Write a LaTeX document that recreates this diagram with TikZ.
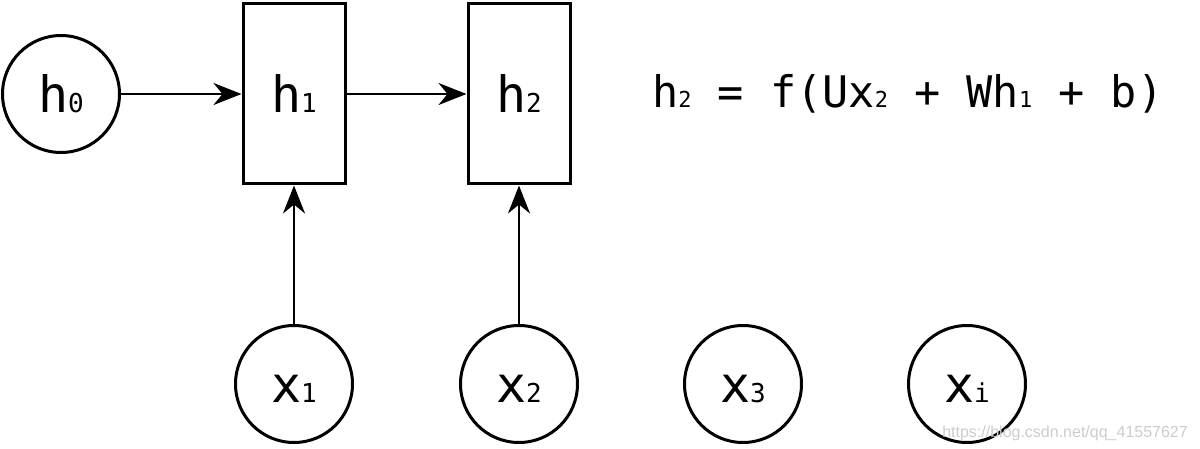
\documentclass[tikz,border=0pt]{standalone}
\usepackage{fontspec}
\newfontfamily\monofont{DejaVu Sans Mono}
\newfontfamily\markfont{Liberation Sans}
\usetikzlibrary{arrows.meta}
\tikzset{
  state/.style={draw,circle,line width=3pt,minimum size=117pt,inner sep=0pt,text height=37pt,text depth=0pt},
  cell/.style={draw,rectangle,line width=3pt,minimum width=102pt,minimum height=180pt,inner sep=0pt,text height=37pt,text depth=0pt},
  flow/.style={line width=2.3pt,-{Stealth[length=28pt,width=22pt,inset=9pt]}}
}
\newcommand{\lbl}[2]{{\monofont\fontsize{50}{50}\selectfont #1}{\monofont\fontsize{26}{26}\selectfont #2}}
\newcommand{\sub}[1]{{\fontsize{22}{22}\selectfont #1}}

\begin{document}
\begin{tikzpicture}[x=1pt,y=1pt]
    \pgfmathsetmacro{\top}{354};
    \pgfmathsetmacro{\bot}{64};
    \useasboundingbox (0,0) rectangle (1200,448);
      % hidden states
      \node[state] (h0) at (61,\top) {\lbl{h}{0}};
      \node[cell] (h1) at (294,\top) {\lbl{h}{1}};
      \node[cell] (h2) at (519,\top) {\lbl{h}{2}};
      % inputs
      \node[state] (x1) at (294,\bot) {\lbl{x}{1}};
      \node[state] (x2) at (519,\bot) {\lbl{x}{2}};
      \node[state] (x3) at (743,\bot) {\lbl{x}{3}};
      \node[state] (xi) at (967,\bot) {\lbl{x}{i}};
      \draw[flow] (h0) -- (h1);
      \draw[flow] (h1) -- (h2);
      \draw[flow] (x1) -- (h1);
      \draw[flow] (x2) -- (h2);
      \node[anchor=base west,inner sep=0pt] (eq) at (652,340)
        {\monofont\fontsize{43.5}{44}\selectfont h\sub{2} = f(Ux\sub{2} + Wh\sub{1} + b)};
      \node[anchor=base east,inner sep=0pt,text=gray!40,font=\markfont\fontsize{16}{16}\selectfont] (mark) at (1188,11) {https://blog.csdn.net/qq\_41557627};
  \end{tikzpicture}
\end{document}
